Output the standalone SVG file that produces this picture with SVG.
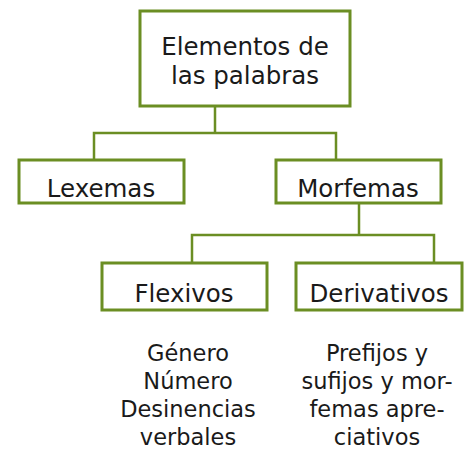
<svg xmlns="http://www.w3.org/2000/svg" width="469" height="452" viewBox="0 0 469 452">
<style>
.box{fill:#fff;stroke:#6B8E23;stroke-width:3}
.ln{fill:none;stroke:#6B8E23;stroke-width:2.5}
text{font-family:"DejaVu Sans",sans-serif;fill:#1a1a1a;text-anchor:middle}
.t{font-size:24.5px}
.s{font-size:22.5px}
</style>
<rect width="469" height="452" fill="#fff"/>
<g id="connectors">
<path class="ln" d="M215 106V133M94 160V133H336V160"/>
<path class="ln" d="M359 203V235M192 263V235H434V263"/>
</g>
<g id="root">
<rect class="box" x="140" y="11" width="210" height="95"/>
<text class="t" x="245" y="55">Elementos de</text>
<text class="t" x="245" y="84">las palabras</text>
</g>
<g id="lexemas">
<rect class="box" x="19" y="160" width="165" height="43"/>
<text class="t" x="101" y="197">Lexemas</text>
</g>
<g id="morfemas">
<rect class="box" x="276" y="160" width="165" height="43"/>
<text class="t" x="358" y="197">Morfemas</text>
</g>
<g id="flexivos">
<rect class="box" x="102" y="263" width="165" height="47"/>
<text class="t" x="184" y="302">Flexivos</text>
</g>
<g id="derivativos">
<rect class="box" x="296" y="263" width="166" height="47"/>
<text class="t" x="379" y="302">Derivativos</text>
</g>
<g id="flexivos-list">
<text class="s" x="188" y="361">Género</text>
<text class="s" x="188" y="389">Número</text>
<text class="s" x="188" y="417">Desinencias</text>
<text class="s" x="188" y="445">verbales</text>
</g>
<g id="derivativos-list">
<text class="s" x="377" y="361">Prefijos y</text>
<text class="s" x="377" y="389">sufijos y mor-</text>
<text class="s" x="377" y="417">femas apre-</text>
<text class="s" x="377" y="445">ciativos</text>
</g>
</svg>
